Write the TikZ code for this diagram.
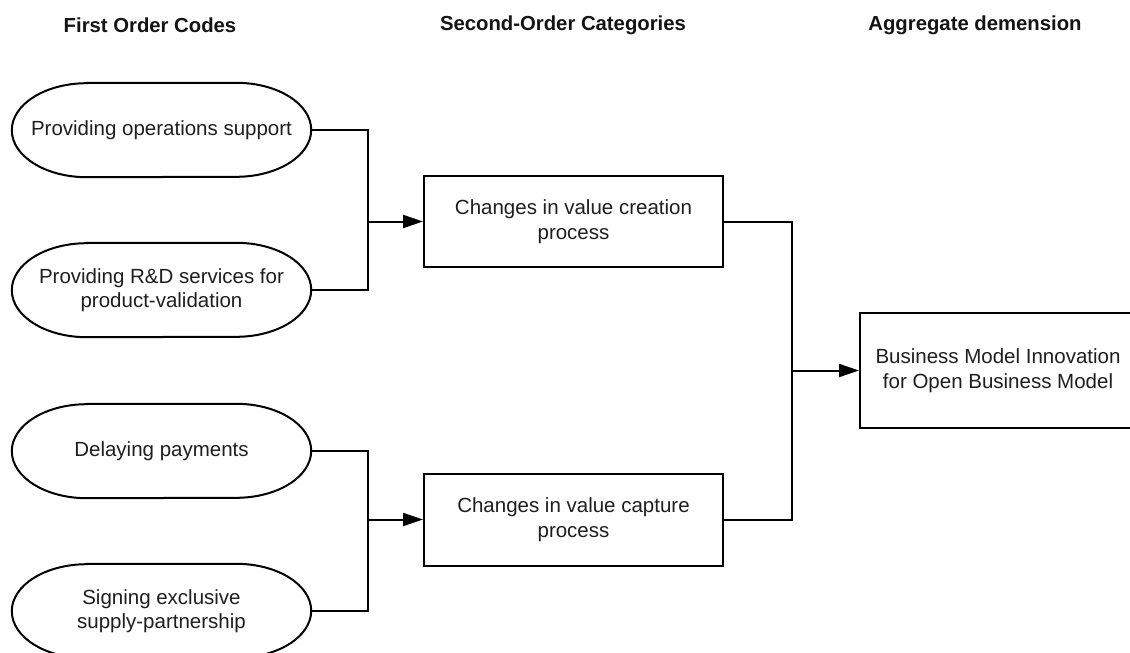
\documentclass[tikz,border=0pt]{standalone}
\usepackage{fontspec}
\setmainfont{Liberation Sans}
\usetikzlibrary{arrows.meta,calc}
\begin{document}
\begin{tikzpicture}[x=1pt,y=1pt,
  txt/.style={text=black!88, font=\fontsize{20.5}{24.5}\selectfont, align=center, inner sep=0pt},
  header/.style={text=black!92, font=\fontsize{20.3}{24}\selectfont\bfseries, inner sep=0pt},
  terminal/.style={txt, minimum width=299pt, minimum height=94pt},
  boxnode/.style={txt, draw, line width=2pt, minimum width=299pt},
  conn/.style={line width=2pt, draw=black},
  arr/.style={conn, -{Triangle[length=20pt,width=13pt]}}
]
\useasboundingbox (0,0) rectangle (1130,-653);
\fill[white] (0,0) rectangle (1130,-653);

% headers
\node[header] (h1) at (150,-25) {First Order Codes};
\node[header] (h2) at (563,-25) {Second-Order Categories};
\node[header] (h3) at (975,-25) {Aggregate demension};

% first order codes (terminator shapes)
\node[terminal] (s1) at (161.5,-130) {Providing operations support};
\node[terminal] (s2) at (161.5,-290) {Providing R\&D services for\\product-validation};
\node[terminal] (s3) at (161.5,-451) {Delaying payments};
\node[terminal] (s4) at (161.5,-611) {Signing exclusive\\supply-partnership};

\foreach \n in {s1,s2,s3,s4}{
  \draw[conn]
    ($(\n.north west)+(75,0)$) -- ($(\n.north east)+(-75,0)$)
    arc[start angle=90,end angle=-90,x radius=75pt,y radius=47pt]
    -- ($(\n.south west)+(75,0)$)
    arc[start angle=270,end angle=90,x radius=75pt,y radius=47pt]
    -- cycle;
}

% second order categories
\node[boxnode, minimum height=91pt] (r1) at (573.5,-221.5) {Changes in value creation\\process};
\node[boxnode, minimum height=92pt] (r2) at (573.5,-519.5) {Changes in value capture\\process};

% aggregate dimension
\node[boxnode, minimum width=276pt, minimum height=115pt] (b) at (998,-370.5) {Business Model Innovation\\for Open Business Model};

% junctions
\coordinate (j1) at (368,-221.5);
\coordinate (j2) at (368,-519.5);
\coordinate (j3) at (792,-370.5);

\draw[conn] (s1.east) -| (j1) |- (s2.east);
\draw[arr] (j1) -- (r1.west);
\draw[conn] (s3.east) -| (j2) |- (s4.east);
\draw[arr] (j2) -- (r2.west);
\draw[conn] (r1.east) -| (j3) |- (r2.east);
\draw[arr] (j3) -- (b.west);
\end{tikzpicture}
\end{document}
